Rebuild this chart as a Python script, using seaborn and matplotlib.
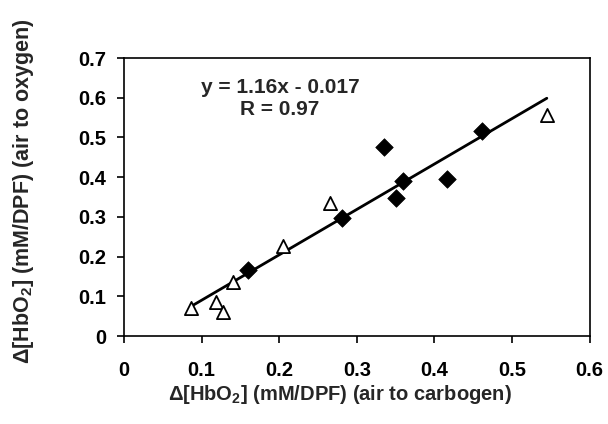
import matplotlib
matplotlib.use("Agg")
import matplotlib.pyplot as plt
import seaborn as sns
import numpy as np
import pandas as pd

# Data
tri_x = [0.086, 0.119, 0.127, 0.141, 0.2045, 0.2655, 0.545]
tri_y = [0.071, 0.086, 0.061, 0.135, 0.227, 0.336, 0.557]
dia_x = [0.160, 0.2805, 0.335, 0.3505, 0.359, 0.416, 0.461]
dia_y = [0.165, 0.296, 0.477, 0.347, 0.391, 0.395, 0.517]
x_ticks = [0, 0.1, 0.2, 0.3, 0.4, 0.5, 0.6]
y_ticks = [0, 0.1, 0.2, 0.3, 0.4, 0.5, 0.6, 0.7]
eq_text = "y = 1.16x - 0.017"
r_text = "R = 0.97"

sns.set_style("white")
plt.rcParams["font.family"] = ["Liberation Sans", "DejaVu Sans"]
plt.rcParams["font.weight"] = "bold"
plt.rcParams["mathtext.fontset"] = "custom"
plt.rcParams["mathtext.rm"] = "Liberation Sans:bold"
plt.rcParams["mathtext.it"] = "Liberation Sans:bold"
plt.rcParams["mathtext.bf"] = "Liberation Sans:bold"
plt.rcParams["mathtext.default"] = "regular"

fig = plt.figure(figsize=(6.08, 4.24), dpi=100)
ax = fig.add_axes([124/608, 1-336/424, (589.5-124)/608, (336-58)/424])

df_all = pd.DataFrame({"x": tri_x + dia_x, "y": tri_y + dia_y})
sns.regplot(data=df_all, x="x", y="y", scatter=False, ci=None, truncate=True,
            line_kws={"color": "black", "lw": 2}, ax=ax)

df_tri = pd.DataFrame({"x": tri_x, "y": tri_y})
df_dia = pd.DataFrame({"x": dia_x, "y": dia_y})
sns.scatterplot(data=df_dia, x="x", y="y", marker="D", s=80, color="black",
                edgecolor="black", linewidth=0.5, ax=ax, zorder=3)
sns.scatterplot(data=df_tri, x="x", y="y", marker="^", s=90, facecolor="white",
                edgecolor="black", linewidth=1.3, ax=ax, zorder=4)

ax.set_xlim(0, 0.6)
ax.set_ylim(0, 0.7)
ax.set_xticks(x_ticks)
ax.set_yticks(y_ticks)
ax.set_xticklabels([f"{t:g}" for t in x_ticks])
ax.set_yticklabels([f"{t:g}" for t in y_ticks])
for s in ax.spines.values():
    s.set_visible(True)
    s.set_color("black")
    s.set_linewidth(1.2)
ax.tick_params(axis="both", which="both", direction="out", length=5, width=1.2,
               labelsize=14.5, bottom=True, left=True, top=False, right=False, colors="black")
for lab in ax.get_xticklabels() + ax.get_yticklabels():
    lab.set_fontweight("bold")
ax.tick_params(axis="x", pad=13)
ax.tick_params(axis="y", pad=8)

ax.set_xlabel("Δ[HbO$_2$] (mM/DPF) (air to carbogen)", fontsize=14.5, fontweight="bold")
ax.set_ylabel("Δ[HbO$_2$] (mM/DPF) (air to oxygen)", fontsize=15.5, fontweight="bold")
ax.xaxis.set_label_coords(0.464, -0.169)
ax.yaxis.set_label_coords(-0.19, 0.52)

ax.text(0.201, 0.611, eq_text, ha="center", va="baseline", fontsize=15, fontweight="bold")
ax.text(0.201, 0.5565, r_text, ha="center", va="baseline", fontsize=15, fontweight="bold")

fig.savefig("out.png", dpi=100)
